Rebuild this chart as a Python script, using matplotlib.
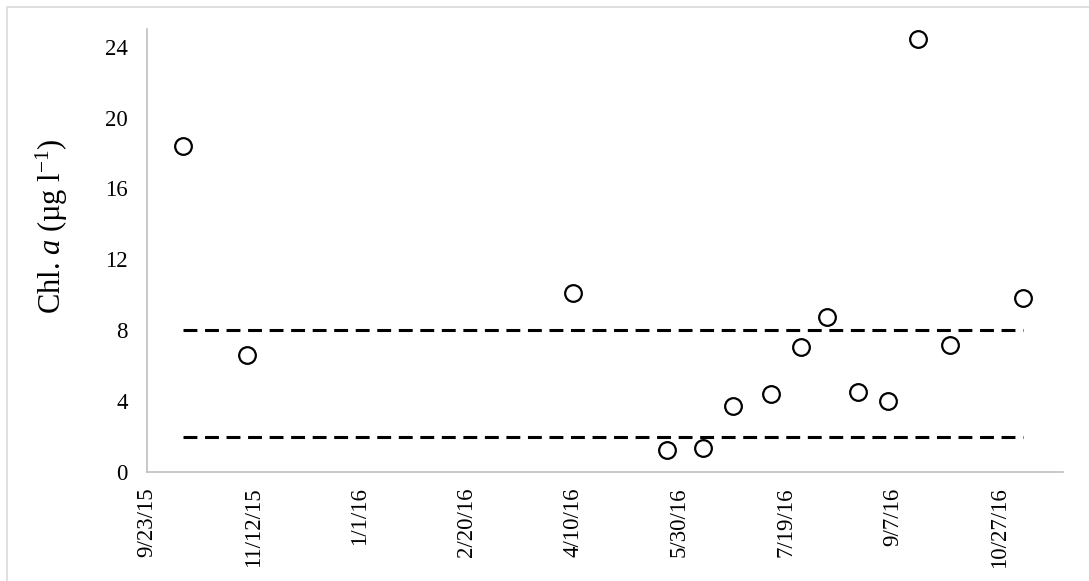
import matplotlib
matplotlib.use("Agg")
import matplotlib.pyplot as plt
from matplotlib.patches import Rectangle
import pandas as pd

#%% data
sample_dates = ['2015-10-10', '2015-11-09', '2016-04-10', '2016-05-24', '2016-06-10',
                '2016-06-24', '2016-07-12', '2016-07-26', '2016-08-07', '2016-08-22',
                '2016-09-05', '2016-09-19', '2016-10-04', '2016-11-07']
chl_a = [18.4, 6.6, 10.1, 1.25, 1.35, 3.7, 4.4, 7.05, 8.75, 4.5, 4.0, 24.45, 7.15, 9.8]

upper_limit = 8   # dashed reference lines
lower_limit = 2

tick_dates = ['2015-09-23', '2015-11-12', '2016-01-01', '2016-02-20', '2016-04-10',
              '2016-05-30', '2016-07-19', '2016-09-07', '2016-10-27']
x_end = '2016-11-26'
y_ticks = [0, 4, 8, 12, 16, 20, 24]

#%% style
plt.rcParams['font.family'] = 'Liberation Serif'
plt.rcParams['mathtext.fontset'] = 'custom'
plt.rcParams['mathtext.rm'] = 'Liberation Serif'
plt.rcParams['mathtext.it'] = 'Liberation Serif:italic'
plt.rcParams['lines.scale_dashes'] = False

t = pd.to_datetime(sample_dates)
ticks = pd.to_datetime(tick_dates)

fig = plt.figure(figsize=(10.89, 5.81), dpi=100)
ax = fig.add_axes([147/1089, 1 - 472/581, (1063 - 147)/1089, (472 - 29)/581])

# light border of the chart area
fig.patches.append(Rectangle((7/1089, -0.1), 1.2, 1 - 7/581 + 0.1, transform=fig.transFigure,
                             fill=False, edgecolor='#D9D9D9', lw=1.2, clip_on=False))

ax.plot([t[0], t[-1]], [upper_limit, upper_limit], color='black', lw=2.2, dashes=(10, 5.5))
ax.plot([t[0], t[-1]], [lower_limit, lower_limit], color='black', lw=2.2, dashes=(10, 5.5))
ax.plot(t, chl_a, 'o', ms=12, mfc='white', mec='black', mew=1.6, zorder=3)

ax.set_xlim(ticks[0], pd.Timestamp(x_end))
ax.set_ylim(0, 25)
ax.set_xticks(ticks)
ax.set_xticklabels([f"{d.month}/{d.day}/{d.year % 100}" for d in ticks], rotation=90)
ax.set_yticks(y_ticks)
ax.tick_params(axis='both', length=0, labelsize=16.5)
ax.tick_params(axis='y', pad=14)
ax.tick_params(axis='x', pad=11)

for s in ['top', 'right']:
    ax.spines[s].set_visible(False)
for s in ['left', 'bottom']:
    ax.spines[s].set_color('#BFBFBF')
    ax.spines[s].set_linewidth(1.2)

ax.set_ylabel('Chl. $a$ (µg l$^{\\mathrm{-1}}$)', fontsize=22)
ax.yaxis.set_label_coords(-0.084, 0.555)

fig.savefig('out.png', dpi=100)
